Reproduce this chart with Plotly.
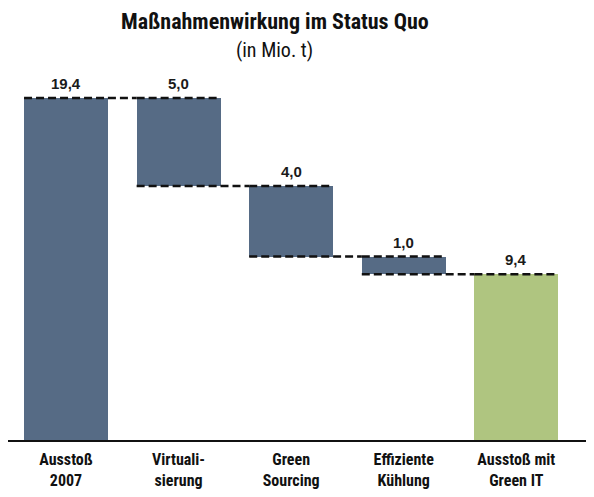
import plotly.graph_objects as go

categories = ["Ausstoß<br>2007", "Virtuali-<br>sierung", "Green<br>Sourcing", "Effiziente<br>Kühlung", "Ausstoß mit<br>Green IT"]
values = [19.4, -5.0, -4.0, -1.0, 9.4]
labels = ["19,4", "5,0", "4,0", "1,0", "9,4"]
kinds = ["total", "delta", "delta", "delta", "total"]

BLUE = "#566b85"
GREEN = "#afc580"
W = 0.745
FW, FH = 586, 489
ML, MR, MT, MB = 0, 0, 52, 57
COND = "Roboto Condensed, Roboto"

xs = list(range(len(categories)))
bases, tops, colors = [], [], []
level = 0.0
for v, k in zip(values, kinds):
    if k == "total":
        bases.append(0.0)
        tops.append(v)
        level = v
        colors.append(BLUE if len(colors) == 0 else GREEN)
    else:
        new = level + v
        bases.append(new)
        tops.append(level)
        level = new
        colors.append(BLUE)

fig = go.Figure()
fig.add_trace(go.Bar(
    x=xs, y=[t - b for t, b in zip(tops, bases)], base=bases,
    marker=dict(color=colors, line=dict(width=0)), width=W,
    hoverinfo="skip",
))

shapes = []
def dash(x0, x1, y):
    shapes.append(dict(type="line", xref="x", yref="y", x0=x0, x1=x1, y0=y, y1=y,
                       line=dict(color="#111111", width=2.5, dash="8px,4px")))

for i in range(len(xs)):
    dash(xs[i] - W / 2, xs[i] + W / 2, tops[i])
    if kinds[i] == "delta":
        dash(xs[i] - W / 2, xs[i] + W / 2, bases[i])
for i in range(len(xs) - 1):
    end_level = tops[i] if kinds[i] == "total" else bases[i]
    dash(xs[i] + W / 2, xs[i + 1] - W / 2, end_level)

annotations = []
for i in range(len(xs)):
    annotations.append(dict(x=xs[i], y=tops[i], xref="x", yref="y", text="<b>" + labels[i] + "</b>",
                            showarrow=False, yanchor="bottom", yshift=4,
                            font=dict(family="Liberation Sans, Arial", size=15, color="#1a1a1a")))

plot_h = FH - MT - MB
def py(pix_from_top):
    return (FH - pix_from_top - MB) / plot_h

annotations.append(dict(x=0.4556, y=py(14), xref="paper", yref="paper", text="<b>Maßnahmenwirkung im Status Quo</b>",
                        showarrow=False, yanchor="middle", xanchor="center",
                        font=dict(family=COND, size=22, color="#111111")))
annotations.append(dict(x=0.4556, y=py(42), xref="paper", yref="paper", text="(in Mio. t)",
                        showarrow=False, yanchor="middle", xanchor="center",
                        font=dict(family=COND, size=20, color="#111111")))

fig.update_layout(
    width=FW, height=FH,
    margin=dict(l=ML, r=MR, t=MT, b=MB),
    plot_bgcolor="white", paper_bgcolor="white",
    showlegend=False,
    shapes=shapes,
    annotations=annotations,
    bargap=0,
    xaxis=dict(range=[-0.515, 4.69], tickvals=xs, ticktext=["<b>" + c + "</b>" for c in categories],
               showgrid=False, zeroline=False, showline=True, linecolor="#111111", linewidth=2,
               ticks="", ticklabelstandoff=4,
               tickfont=dict(family=COND, size=16, color="#111111")),
    yaxis=dict(range=[0, 21.55], visible=False, showgrid=False, zeroline=False),
)

fig.write_html("out.html")
